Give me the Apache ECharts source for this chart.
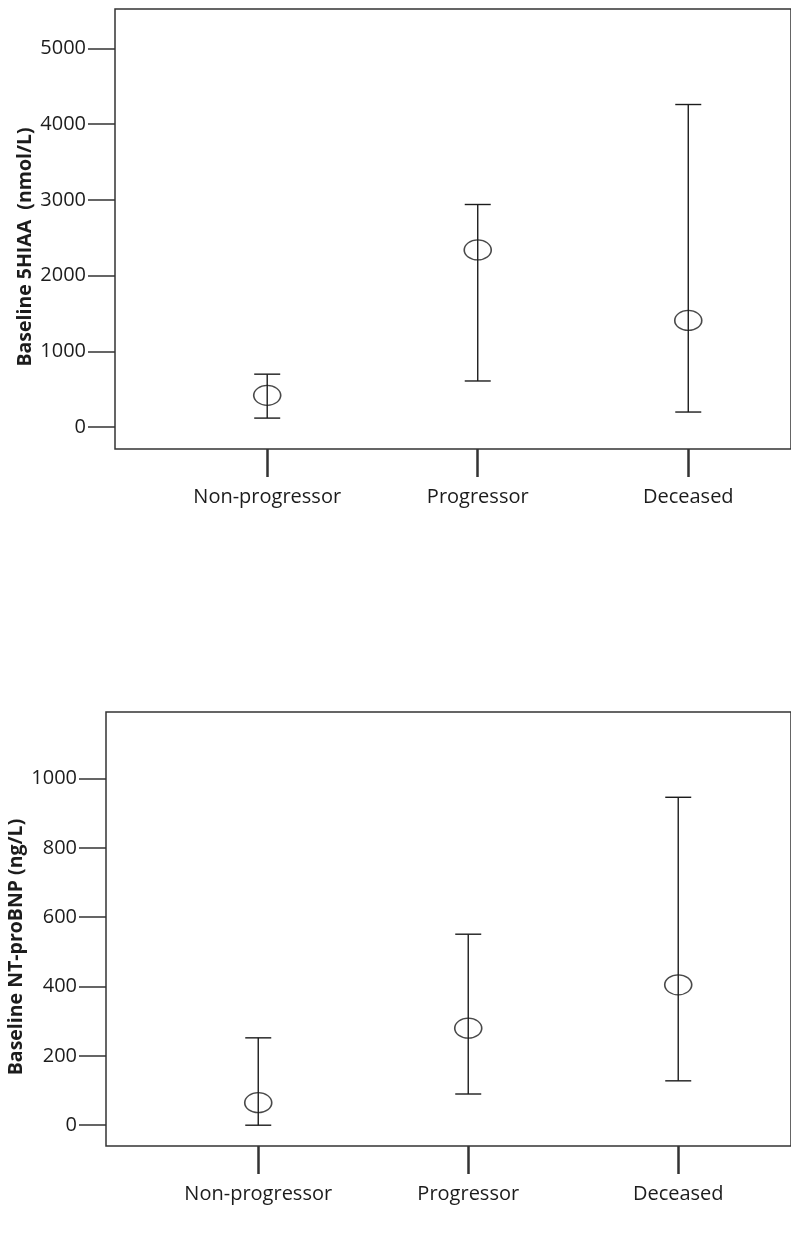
<!DOCTYPE html>
<html>
<head>
<meta charset="utf-8">
<script src="https://cdn.jsdelivr.net/npm/echarts@6/dist/echarts.min.js"></script>
<style>
  html, body { margin: 0; padding: 0; background: #fff; }
  #chart { width: 791px; height: 1258px; }
</style>
</head>
<body>
<div id="chart"></div>
<script>
// groups on the x axis
const categories = ["Non-progressor", "Progressor", "Deceased"];

// top panel: baseline 5HIAA (nmol/L), mean with 95% CI
const hiaaMean = [420, 2340, 1410];
const hiaaLow = [120, 610, 200];
const hiaaHigh = [700, 2940, 4260];
const hiaaTicks = [0, 1000, 2000, 3000, 4000, 5000];

// bottom panel: baseline NT-proBNP (ng/L)
const bnpMean = [65, 280, 405];
const bnpLow = [0, 90, 128];
const bnpHigh = [252, 551, 946];
const bnpTicks = [0, 200, 400, 600, 800, 1000];

const ink = "#1c1c1c";
const font = "'Open Sans', sans-serif";

function errorBar(params, api) {
  const x = api.value(0);
  const lo = api.coord([x, api.value(1)]);
  const hi = api.coord([x, api.value(2)]);
  const w = 13;
  const style = { stroke: ink, lineWidth: 1.4 };
  return {
    type: "group",
    children: [
      { type: "line", shape: { x1: lo[0], y1: lo[1], x2: hi[0], y2: hi[1] }, style: style },
      { type: "line", shape: { x1: lo[0] - w, y1: lo[1], x2: lo[0] + w, y2: lo[1] }, style: style },
      { type: "line", shape: { x1: hi[0] - w, y1: hi[1], x2: hi[0] + w, y2: hi[1] }, style: style }
    ]
  };
}

function xAxisFor(idx, min, max) {
  return {
    type: "value", gridIndex: idx, min: min, max: max, position: "bottom",
    axisLine: { show: false, onZero: false },
    splitLine: { show: false },
    axisTick: { show: true, customValues: [0, 1, 2], length: 28, lineStyle: { color: "#333", width: 2.5 } },
    axisLabel: {
      customValues: [0, 1, 2], margin: 38,
      formatter: v => categories[Math.round(v)] || "",
      color: ink, fontFamily: font, fontSize: 20
    }
  };
}

function yAxisFor(idx, min, max, ticks, name) {
  return {
    type: "value", gridIndex: idx, min: min, max: max, position: "left",
    name: name, nameLocation: "middle", nameGap: 80, nameRotate: 90, nameMoveOverlap: false,
    nameTextStyle: { color: ink, fontFamily: font, fontSize: 19.5, fontWeight: "bold", padding: [0, 36, 0, 0] },
    axisLine: { show: false, onZero: false },
    splitLine: { show: false },
    axisTick: { show: true, customValues: ticks, length: 27, lineStyle: { color: "#333", width: 1.5 } },
    axisLabel: { customValues: ticks, margin: 29, formatter: v => String(v), color: ink, fontFamily: font, fontSize: 20 }
  };
}

function seriesFor(idx, mean, low, high) {
  return [
    {
      type: "custom", xAxisIndex: idx, yAxisIndex: idx,
      renderItem: errorBar,
      data: categories.map((c, i) => [i, low[i], high[i]])
    },
    {
      type: "scatter", xAxisIndex: idx, yAxisIndex: idx, z: 5,
      symbol: "circle", symbolSize: [27, 20],
      itemStyle: { color: "transparent", borderColor: ink, borderWidth: 1.4 },
      data: categories.map((c, i) => [i, mean[i]])
    }
  ];
}

const chart = echarts.init(document.getElementById("chart"));
chart.setOption({
  animation: false,
  backgroundColor: "#fff",
  grid: [
    { left: 115, top: 9, width: 676, height: 440, outerBoundsMode: "none", containLabel: false,
      show: true, borderColor: "#333", borderWidth: 1.5, backgroundColor: "#fff" },
    { left: 106, top: 712, width: 685, height: 434, outerBoundsMode: "none", containLabel: false,
      show: true, borderColor: "#333", borderWidth: 1.5, backgroundColor: "#fff" }
  ],
  xAxis: [
    xAxisFor(0, -0.723, 2.488),
    xAxisFor(1, -0.725, 2.537)
  ],
  yAxis: [
    yAxisFor(0, -288, 5521, hiaaTicks, "Baseline 5HIAA  (nmol/L)"),
    yAxisFor(1, -60, 1192, bnpTicks, "Baseline NT-proBNP (ng/L)")
  ],
  series: [].concat(
    seriesFor(0, hiaaMean, hiaaLow, hiaaHigh),
    seriesFor(1, bnpMean, bnpLow, bnpHigh)
  )
});
</script>
</body>
</html>
